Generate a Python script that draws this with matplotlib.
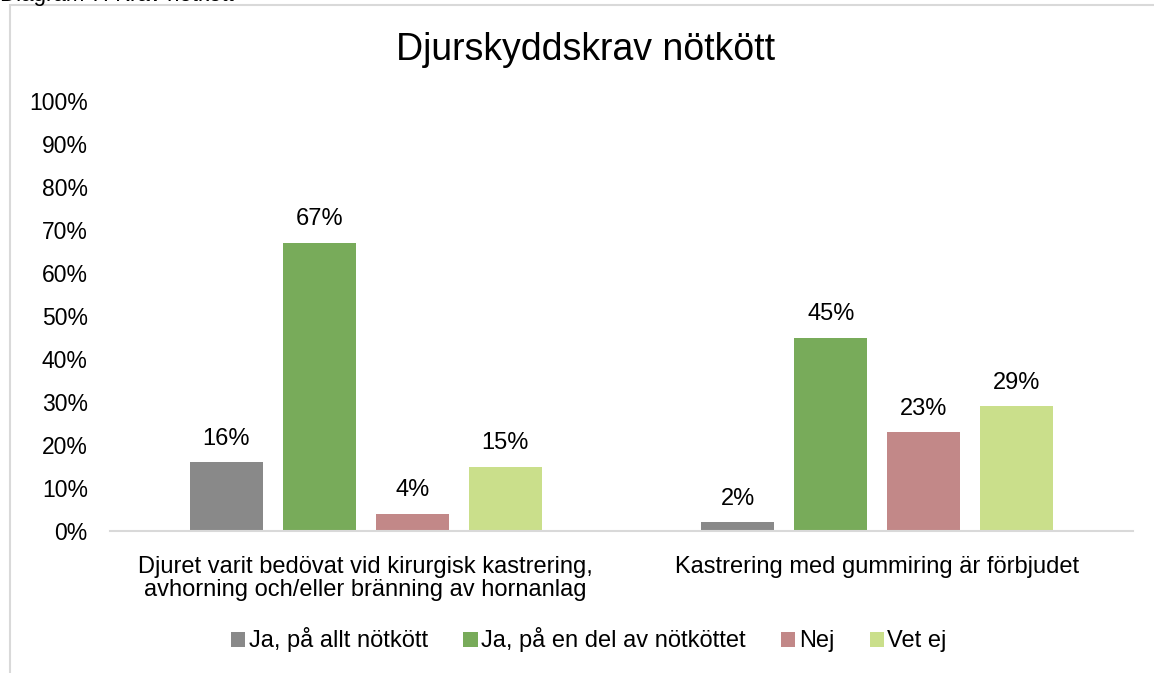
import matplotlib.pyplot as plt
import numpy as np
from matplotlib.patches import Rectangle

plt.rcParams['font.family'] = ['Liberation Sans', 'DejaVu Sans']

# ------------------------------------------------
# Data
# ------------------------------------------------
categories = ["Djuret varit bedövat vid kirurgisk kastrering,\navhorning och/eller bränning av hornanlag",
              "Kastrering med gummiring är förbjudet"]
series_names = ["Ja, på allt nötkött", "Ja, på en del av nötköttet", "Nej", "Vet ej"]
ja_allt = [16, 2]
ja_del = [67, 45]
nej = [4, 23]
vet_ej = [15, 29]
colors = ["#898989", "#78AB5A", "#C28888", "#CADF8B"]

series = [ja_allt, ja_del, nej, vet_ej]

# ------------------------------------------------
# Figure
# ------------------------------------------------
fig = plt.figure(figsize=(11.54, 6.73), dpi=100)
ax = fig.add_axes([110 / 1154, 1 - 531 / 673, 1023 / 1154, 430 / 673])

# chart frame (only left and top visible)
fig.patches.append(Rectangle((10 / 1154, -0.1), 1.2, 1 - 5 / 673 + 0.1, transform=fig.transFigure,
                             fill=False, edgecolor="#D9D9D9", linewidth=1.5))
# caption above the chart, cut off at the top edge like in the original
fig.text(0.0, 1 - 1.5 / 673, "Diagram 7. Krav nötkött", fontsize=16, ha="left", va="baseline")

x = np.arange(len(categories))
width = 0.143
step = 0.182
for i, (vals, name, col) in enumerate(zip(series, series_names, colors)):
    pos = x + (i - 1.5) * step
    ax.bar(pos, vals, width, color=col, label=name)
    for p, v in zip(pos, vals):
        ax.annotate(f"{v}%", (p, v), xytext=(0, 9), textcoords="offset points",
                    ha="center", va="bottom", fontsize=17)

ax.set_xlim(-0.5, 1.5)
ax.set_ylim(0, 100)
ax.set_yticks(range(0, 101, 10))
ax.set_yticklabels([f"{t}%" for t in range(0, 101, 10)], fontsize=16.5)
ax.set_xticks(x)
ax.set_xticklabels(categories, fontsize=17, linespacing=1.05)
ax.tick_params(axis="both", length=0)
ax.tick_params(axis="x", pad=18)
ax.tick_params(axis="y", pad=16)
for s in ["top", "right", "left"]:
    ax.spines[s].set_visible(False)
ax.spines["bottom"].set_color("#D9D9D9")
ax.spines["bottom"].set_linewidth(1.5)

fig.text(586 / 1154, 1 - 50 / 673, "Djurskyddskrav nötkött", fontsize=27, ha="center", va="center")

fig.legend(loc="center", bbox_to_anchor=(589 / 1154, 1 - 640 / 673), ncol=4, frameon=False,
           fontsize=17, handlelength=0.6, handleheight=0.6, handletextpad=0.15, columnspacing=1.5)

fig.savefig("out.png", dpi=100)
